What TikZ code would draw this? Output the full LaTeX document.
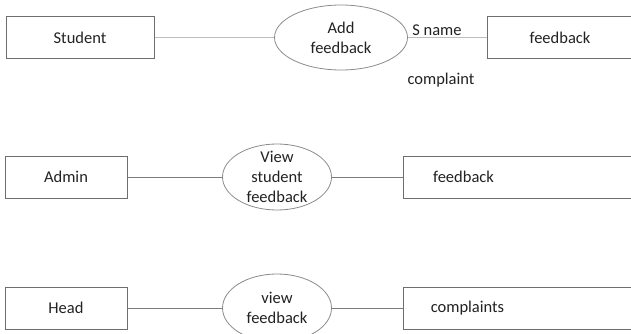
\documentclass[tikz,border=0pt]{standalone}
\usepackage{fontspec}
\setmainfont{Carlito}
\usetikzlibrary{shapes.geometric}
\newcommand{\dfdfont}{\fontsize{16.5pt}{20pt}\selectfont}
\definecolor{boxgray}{HTML}{6E6E6E}
\definecolor{ellgray}{HTML}{8C8C8C}
\definecolor{faintgray}{HTML}{BDBDBD}
\definecolor{wiregray}{HTML}{7C7C7C}
\definecolor{inkgray}{HTML}{222222}
\tikzset{
  entity/.style={draw=boxgray, rectangle, line width=1pt, minimum height=42pt, font=\dfdfont, text=inkgray},
  action/.style={draw=ellgray, ellipse, line width=0.8pt, inner sep=-8pt, align=center, font=\dfdfont, text=inkgray},
  wire/.style={draw=wiregray, line width=1pt},
  faintwire/.style={draw=faintgray, line width=1pt},
  note/.style={font=\dfdfont, text=inkgray}
}
\begin{document}
\begin{tikzpicture}[x=1pt, y=-1pt]
\clip (0,0) rectangle (631,334);
\fill[white] (0,0) rectangle (631,334);

\node (student) [entity, minimum width=148pt] at (80,37.5) {Student};
\node (add) [action, minimum width=133pt, minimum height=65pt] at (341,37.5) {Add\\feedback};
\node (fbone) [entity, minimum width=146pt] at (560,37.5) {feedback};
\node (sname) [note] at (437,30) {S name};
\node (cmpl) [note] at (441,80) {complaint};

\node (admin) [entity, minimum width=122pt] at (66,177) {Admin};
\node (viewstu) [action, minimum width=109pt, minimum height=66pt] at (277,177) {View\\student\\feedback};
\node (fbtwo) [entity, anchor=west, minimum width=250pt,
  label={[note, xshift=-65pt]center:feedback}] at (403,177) {};

\node (head) [entity, minimum width=122pt] at (66,308) {Head};
\node (viewfb) [action, minimum width=109pt, minimum height=68pt] at (277,308) {view\\feedback};
\node (cmplts) [entity, anchor=west, minimum width=250pt,
  label={[note, xshift=-61pt]center:complaints}] at (403,308) {};

\draw[faintwire] (student) -- (add);
\draw[faintwire] (add) -- (fbone);
\draw[wire] (admin) -- (viewstu);
\draw[wire] (viewstu) -- (fbtwo);
\draw[wire] (head) -- (viewfb);
\draw[wire] (viewfb) -- (cmplts);
\end{tikzpicture}
\end{document}
